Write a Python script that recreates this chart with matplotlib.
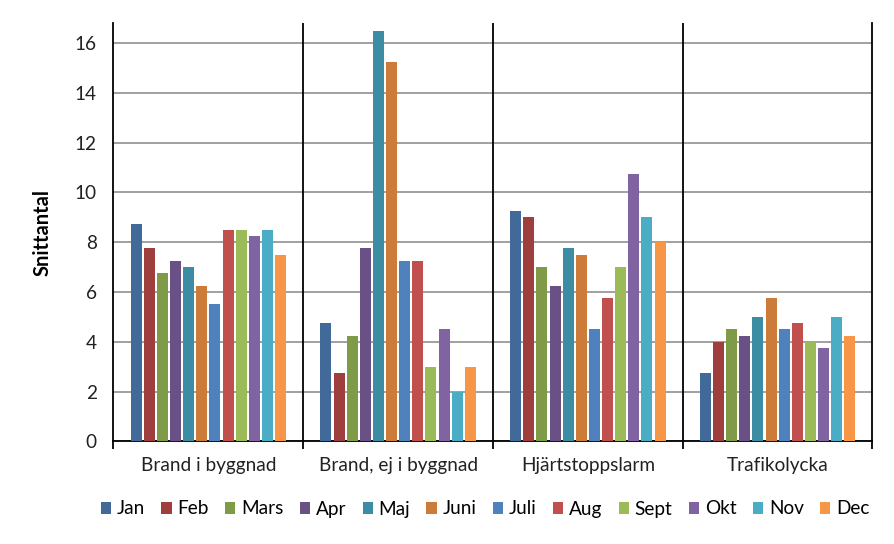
import matplotlib
matplotlib.use("Agg")
import matplotlib.pyplot as plt
import numpy as np
from matplotlib.patches import Patch

categories = ["Brand i byggnad", "Brand, ej i byggnad", "Hjärtstoppslarm", "Trafikolycka"]
months = ["Jan", "Feb", "Mars", "Apr", "Maj", "Juni", "Juli", "Aug", "Sept", "Okt", "Nov", "Dec"]
jan = [8.75, 4.75, 9.25, 2.75]
feb = [7.75, 2.75, 9.0, 4.0]
mars = [6.75, 4.25, 7.0, 4.5]
apr = [7.25, 7.75, 6.25, 4.25]
maj = [7.0, 16.5, 7.75, 5.0]
juni = [6.25, 15.25, 7.5, 5.75]
juli = [5.5, 7.25, 4.5, 4.5]
aug = [8.5, 7.25, 5.75, 4.75]
sept = [8.5, 3.0, 7.0, 4.0]
okt = [8.25, 4.5, 10.75, 3.75]
nov = [8.5, 2.0, 9.0, 5.0]
dec = [7.5, 3.0, 8.0, 4.25]
series = [jan, feb, mars, apr, maj, juni, juli, aug, sept, okt, nov, dec]
colors = ["#416A9B", "#9E3F3D", "#809B48", "#695186", "#3C8DA4", "#CD7B38",
          "#4F81BD", "#C0504D", "#9BBB59", "#8064A2", "#4BACC6", "#F79646"]

plt.rcParams['font.family'] = ['Lato', 'DejaVu Sans']
FS = 13.7

fig = plt.figure(figsize=(8.95, 5.44), dpi=100)
ax = fig.add_axes([113.5/895, 1 - 441.3/544, (872.5-113.5)/895, (441.3-23.3)/544])

n = len(series)
slot = 0.83 / n
bw = slot * 0.83
x = np.arange(len(categories))
for i, (vals, c) in enumerate(zip(series, colors)):
    ax.bar(x - 0.415 + slot * (i + 0.5), vals, width=bw, color=c, zorder=3, label=months[i])

ax.set_xlim(-0.5, len(categories) - 0.5)
ax.set_ylim(0, 16.8)
ax.set_yticks(np.arange(0, 17, 2))
ax.tick_params(axis='y', length=0, labelsize=FS, pad=12, colors='#222222')
ax.yaxis.grid(True, color='#868686', linewidth=1.1, zorder=0)

ax.set_xticks(np.arange(-0.5, len(categories)), minor=False)
ax.set_xticklabels([""] * (len(categories) + 1))
ax.tick_params(axis='x', which='major', length=6, width=1.3, color='black', direction='out')
ax.set_xticks(x, minor=True)
ax.set_xticklabels(categories, minor=True)
ax.tick_params(axis='x', which='minor', length=0, labelsize=FS, pad=11, colors='#222222')

for b in np.arange(0.5, len(categories) - 0.5):
    ax.axvline(b, color='black', linewidth=1.3, zorder=4)

ax.spines['top'].set_visible(False)
for s in ['left', 'right', 'bottom']:
    ax.spines[s].set_linewidth(1.3)
    ax.spines[s].set_color('black')

ax.set_ylabel("Snittantal", fontsize=14.5, fontweight='bold', labelpad=16)

handles = [Patch(facecolor=c, label=m) for c, m in zip(colors, months)]
fig.legend(handles=handles, loc='center', bbox_to_anchor=(485/895, 1 - 509/544), ncol=12,
           frameon=False, fontsize=FS, handlelength=0.55, handleheight=0.55,
           handletextpad=0.3, columnspacing=0.85, borderaxespad=0)

fig.savefig("out.png", dpi=100)
